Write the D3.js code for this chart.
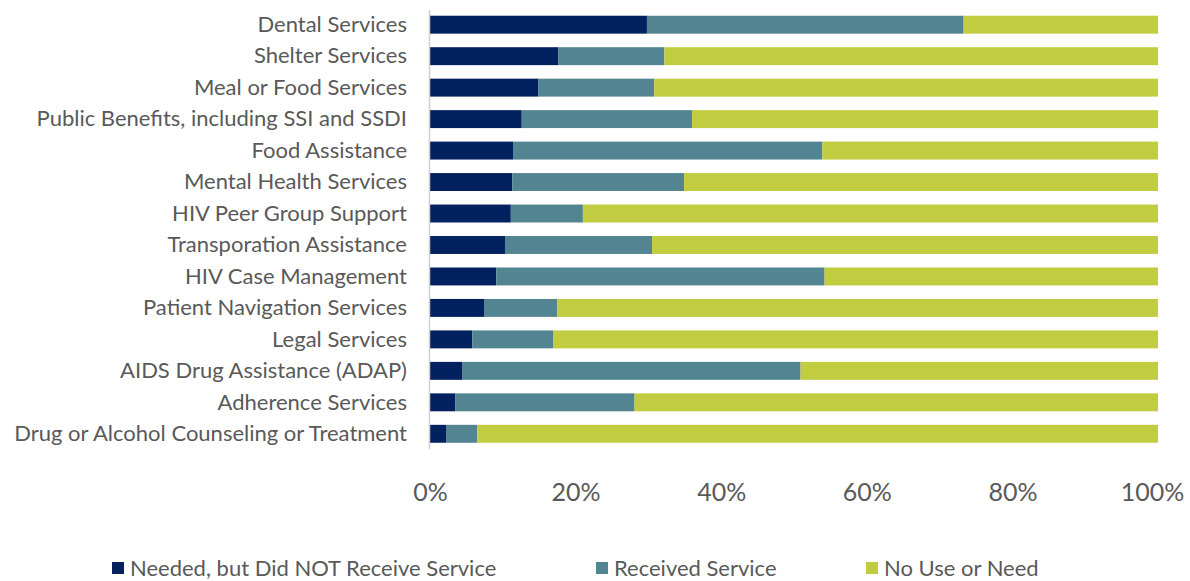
<!DOCTYPE html>
<html>
<head>
<meta charset="UTF-8">
<title>Service needs</title>
<script src="https://cdn.jsdelivr.net/npm/d3@7/dist/d3.min.js"></script>
<style>
  * { margin: 0; padding: 0; }
  body { background: #fff; }
  #chart { width: 1190px; height: 581px; }
  text { font-family: Lato, "Open Sans", sans-serif; fill: #595959; }
</style>
</head>
<body>
<div id="chart"></div>
<script>
// categories, top to bottom
var categories = [
  "Dental Services",
  "Shelter Services",
  "Meal or Food Services",
  "Public Benefits, including SSI and SSDI",
  "Food Assistance",
  "Mental Health Services",
  "HIV Peer Group Support",
  "Transporation Assistance",
  "HIV Case Management",
  "Patient Navigation Services",
  "Legal Services",
  "AIDS Drug Assistance (ADAP)",
  "Adherence Services",
  "Drug or Alcohol Counseling or Treatment"
];
var seriesNames = ["Needed, but Did NOT Receive Service", "Received Service", "No Use or Need"];
// percent values
var neededNotReceived = [29.8, 17.6, 14.9, 12.6, 11.4, 11.3, 11.1, 10.3, 9.1, 7.5, 5.8, 4.4, 3.5, 2.2];
var received          = [43.5, 14.6, 15.9, 23.4, 42.5, 23.6,  9.9, 20.2, 45.1, 10.0, 11.1, 46.5, 24.6, 4.3];
var noUse             = [26.7, 67.8, 69.2, 64.0, 46.1, 65.1, 79.0, 69.5, 45.8, 82.5, 83.1, 49.1, 71.9, 93.5];
var tickValues = [0, 20, 40, 60, 80, 100];
var colors = ["#03215f", "#528591", "#c2cc40"];

var W = 1190, H = 581;
var svg = d3.select("#chart").append("svg").attr("width", W).attr("height", H);

var rows = categories.map(function (c, i) {
  return { name: c, a: neededNotReceived[i], b: received[i], c: noUse[i] };
});

var x = d3.scaleLinear().domain([0, 100]).range([430, 1158]);
var y = d3.scaleBand().domain(categories).range([2.2, 456.3]).padding(0.43);

var stack = d3.stack().keys(["a", "b", "c"]);
var layers = stack(rows);

svg.selectAll("g.layer")
  .data(layers)
  .enter().append("g")
  .attr("class", "layer")
  .attr("fill", function (d, i) { return colors[i]; })
  .selectAll("rect")
  .data(function (d) { return d; })
  .enter().append("rect")
  .attr("x", function (d) { return x(d[0]); })
  .attr("width", function (d) { return x(d[1]) - x(d[0]); })
  .attr("y", function (d) { return y(d.data.name); })
  .attr("height", y.bandwidth());

// vertical axis line
svg.append("line")
  .attr("x1", x(0) - 0.5).attr("x2", x(0) - 0.5)
  .attr("y1", 10).attr("y2", 449)
  .attr("stroke", "#d0d0d0").attr("stroke-width", 1.5);

// category labels
svg.append("g").selectAll("text")
  .data(categories)
  .enter().append("text")
  .attr("x", 407)
  .attr("y", function (d) { return y(d) + y.bandwidth() / 2; })
  .attr("dy", "0.33em")
  .attr("text-anchor", "end")
  .style("font-size", "22px")
  .text(function (d) { return d; });

// x axis tick labels
var xAxis = d3.axisBottom(x).tickValues(tickValues).tickSize(0)
  .tickFormat(function (d) { return d + "%"; });
var gx = svg.append("g").attr("transform", "translate(0,480)").call(xAxis);
gx.select(".domain").remove();
gx.selectAll("text").style("font-size", "25px").style("fill", "#595959")
  .style("font-family", "Lato, 'Open Sans', sans-serif")
  .attr("dx", function (d) { return d === 100 ? "-6" : "0"; });

// legend
var legendX = [112, 596, 866];
var lg = svg.append("g").selectAll("g")
  .data(seriesNames)
  .enter().append("g")
  .attr("transform", function (d, i) { return "translate(" + legendX[i] + ",568)"; });
lg.append("rect")
  .attr("x", 0).attr("y", -6).attr("width", 12).attr("height", 12)
  .attr("fill", function (d, i) { return colors[i]; });
lg.append("text")
  .attr("x", 18).attr("dy", "0.35em")
  .style("font-size", "22px")
  .text(function (d) { return d; });
</script>
</body>
</html>
